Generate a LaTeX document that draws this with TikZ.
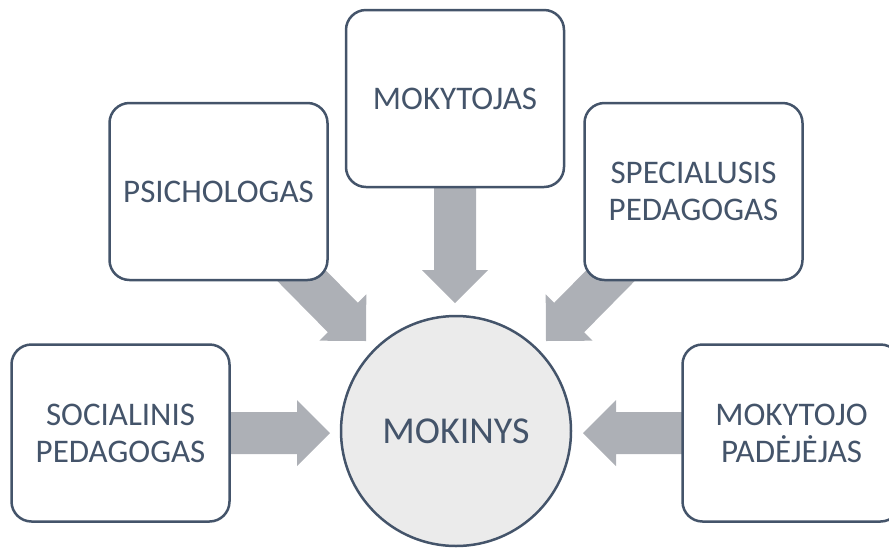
\documentclass[tikz,border=0pt]{standalone}
\usepackage{fontspec}
\setmainfont{Carlito}
\usetikzlibrary{calc}
\definecolor{edge}{HTML}{44546A}
\definecolor{arrowgray}{HTML}{ADB0B6}
\definecolor{circfill}{HTML}{EBEBEB}
\pgfdeclarelayer{bg}
\pgfsetlayers{bg,main}
\tikzset{
  box/.style={draw=edge, line width=2.5pt, fill=white, rounded corners=20pt,
    minimum width=218pt, minimum height=177pt, align=center, text=edge,
    font=\fontsize{33}{37}\selectfont, inner sep=0pt},
  hub/.style={circle, draw=edge, line width=2.5pt, fill=circfill,
    minimum size=230pt, text=edge, font=\fontsize{38}{44}\selectfont, inner sep=0pt},
  flow/.style={fill=arrowgray}
}
\newcommand\blockarrow[2]{%
  \coordinate (#1-#2-h) at ($(#2)!33pt!(#1)$);
  \fill[flow] ($(#1)!21pt!90:(#2)$) -- ($(#1-#2-h)!21pt!90:(#2)$)
    -- ($(#1-#2-h)!33pt!90:(#2)$) -- (#2)
    -- ($(#1-#2-h)!33pt!-90:(#2)$) -- ($(#1-#2-h)!21pt!-90:(#2)$)
    -- ($(#1)!21pt!-90:(#2)$) -- cycle;}
\begin{document}
\begin{tikzpicture}[x=1pt,y=-1pt]
  \useasboundingbox (0,0) rectangle (889,550);
  \clip (0,0) rectangle (889,550);
  \node[box] (psy) at (218.5,191.5) {PSICHOLOGAS};
  \node[box] (teach) at (455,98.5) {MOKYTOJAS};
  \node[box] (spec) at (693.5,191.5) {SPECIALUSIS\\PEDAGOGAS};
  \node[box] (soc) at (120.5,433) {SOCIALINIS\\PEDAGOGAS};
  \node[box] (asst) at (791.5,433) {MOKYTOJO\\PADĖJĖJAS};
  \node[hub] (pupil) at (456,431) {MOKINYS};
  \coordinate (tpsy) at (366,341);
  \coordinate (tteach) at (455,303);
  \coordinate (tspec) at (546,341);
  \coordinate (tsoc) at (330,433);
  \coordinate (tasst) at (583,433);
  \begin{pgfonlayer}{bg}
    \blockarrow{psy}{tpsy}
    \blockarrow{teach}{tteach}
    \blockarrow{spec}{tspec}
    \blockarrow{soc}{tsoc}
    \blockarrow{asst}{tasst}
  \end{pgfonlayer}
\end{tikzpicture}
\end{document}
